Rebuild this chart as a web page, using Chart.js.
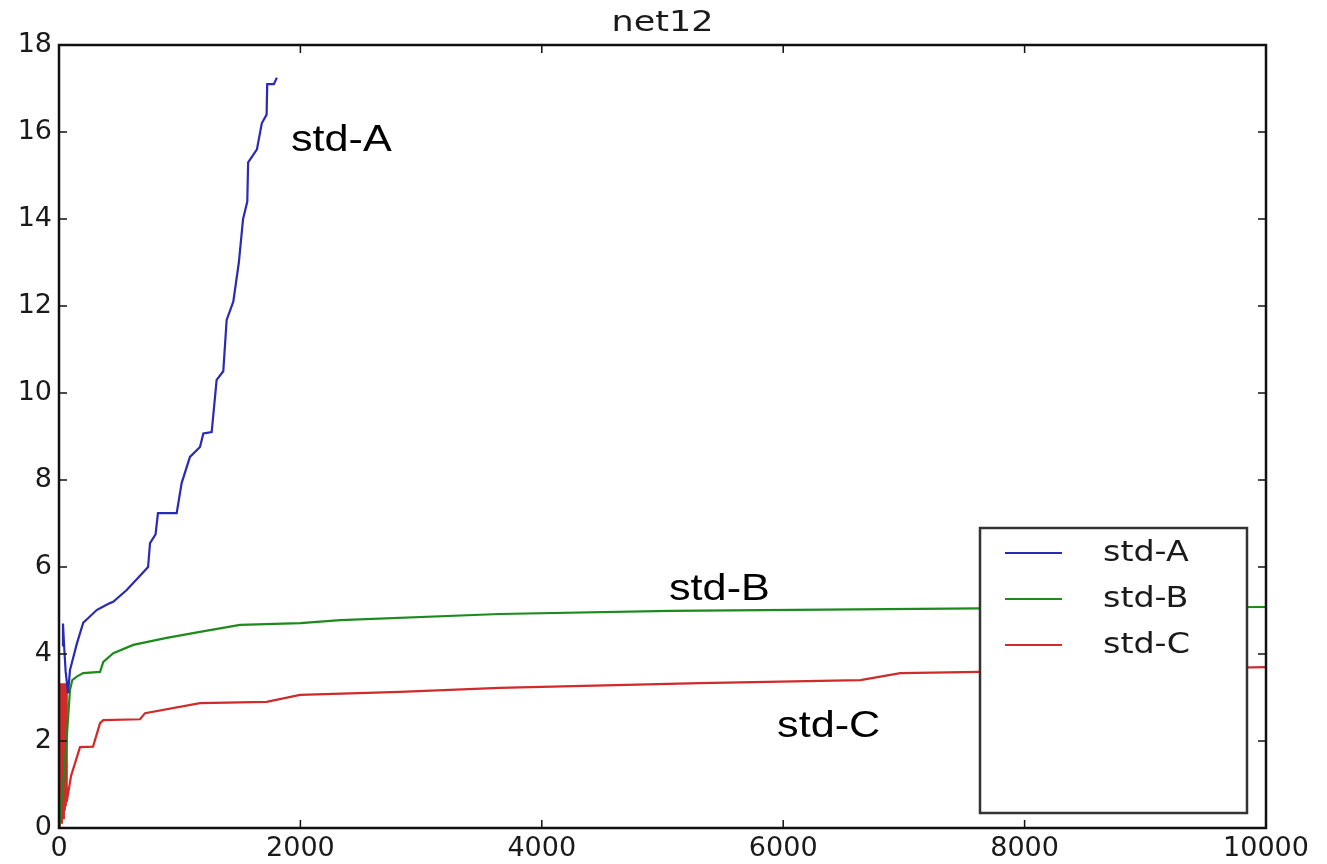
<!DOCTYPE html>
<html>
<head>
    <meta charset="UTF-8" />
    <title>net12</title>
    <style>
        body { margin: 0; background: #ffffff; }
        canvas#chartId { display: block; }
    </style>
</head>
<body>
    <canvas id="chartId" width="1327" height="864"></canvas>
    <script src="https://cdn.jsdelivr.net/npm/chart.js@4/dist/chart.umd.min.js"></script>
    <script>
        // values
        var xTicks = [0, 2000, 4000, 6000, 8000, 10000];
        var yTicks = [0, 2, 4, 6, 8, 10, 12, 14, 16, 18];

        var seriesNames = ['std-A', 'std-B', 'std-C'];
        var seriesColors = ['#2a2ab4', '#1c8a1c', '#d02a2a'];

        var xA = [25, 33, 40, 55, 75, 91, 149, 201, 232, 312, 340, 422, 449, 561, 671, 738, 754, 800, 820, 975, 1016, 1085, 1168, 1196, 1265, 1306, 1361, 1389, 1444, 1490, 1525, 1560, 1567, 1640, 1680, 1720, 1725, 1780, 1805];
        var yA = [4.2, 4.7, 4.3, 3.6, 3.1, 3.63, 4.25, 4.72, 4.8, 5.01, 5.05, 5.17, 5.2, 5.47, 5.8, 6.0, 6.55, 6.75, 7.24, 7.24, 7.93, 8.53, 8.76, 9.07, 9.1, 10.3, 10.5, 11.68, 12.1, 13.0, 14.0, 14.4, 15.3, 15.6, 16.2, 16.4, 17.1, 17.1, 17.25];

        var xB = [0, 30, 50, 91, 110, 147, 200, 340, 367, 450, 615, 892, 1168, 1500, 2000, 2330, 3650, 5060, 7630, 10000];
        var yB = [0, 0.9, 1.5, 3.17, 3.4, 3.48, 3.56, 3.59, 3.82, 4.02, 4.21, 4.37, 4.51, 4.67, 4.71, 4.78, 4.92, 4.99, 5.05, 5.08];

        var xC = [0, 4, 8, 12, 16, 20, 24, 28, 32, 36, 40, 44, 48, 52, 56, 60, 64, 100, 174, 282, 340, 367, 671, 713, 1168, 1720, 1997, 2825, 3650, 5310, 6640, 6970, 7630, 10000];
        var yC = [0, 3.33, 0.1, 3.33, 0.2, 3.33, 0.1, 3.33, 0.3, 3.33, 0.2, 3.33, 0.4, 3.33, 0.5, 3.33, 0.6, 1.2, 1.86, 1.87, 2.41, 2.48, 2.5, 2.64, 2.87, 2.9, 3.06, 3.13, 3.22, 3.33, 3.4, 3.56, 3.59, 3.7];

        // text labels placed next to the curves
        var noteText = ['std-A', 'std-B', 'std-C'];
        var noteX = [1922, 5054, 5949];
        var noteY = [15.8, 5.47, 2.32];

        function toPoints(xs, ys) {
            var pts = [];
            for (var i = 0; i < xs.length; i++) pts.push({ x: xs[i], y: ys[i] });
            return pts;
        }

        var allX = [xA, xB, xC];
        var allY = [yA, yB, yC];
        var datasets = seriesNames.map(function (name, i) {
            return {
                label: name,
                data: toPoints(allX[i], allY[i]),
                borderColor: seriesColors[i],
                borderWidth: 2.2,
                pointRadius: 0,
                tension: 0,
                fill: false
            };
        });

        var tickFont = { family: 'DejaVu Sans', size: 27 };

        // matplotlib-like frame, inward ticks, title, legend box and notes
        var mplLook = {
            id: 'mplLook',
            afterDraw: function (chart) {
                var ctx = chart.ctx;
                var a = chart.chartArea;
                var sx = chart.scales.x, sy = chart.scales.y;
                ctx.save();

                ctx.strokeStyle = '#111';
                ctx.lineWidth = 2.5;
                ctx.strokeRect(a.left, a.top, a.right - a.left, a.bottom - a.top);

                ctx.lineWidth = 1.5;
                ctx.beginPath();
                xTicks.forEach(function (v) {
                    var p = sx.getPixelForValue(v);
                    ctx.moveTo(p, a.bottom); ctx.lineTo(p, a.bottom - 8);
                    ctx.moveTo(p, a.top); ctx.lineTo(p, a.top + 8);
                });
                yTicks.forEach(function (v) {
                    var p = sy.getPixelForValue(v);
                    ctx.moveTo(a.left, p); ctx.lineTo(a.left + 8, p);
                    ctx.moveTo(a.right, p); ctx.lineTo(a.right - 8, p);
                });
                ctx.stroke();

                // title
                ctx.fillStyle = '#1a1a1a';
                ctx.textAlign = 'center';
                ctx.textBaseline = 'middle';
                ctx.save();
                ctx.translate((a.left + a.right) / 2, 24);
                ctx.scale(1.25, 1);
                ctx.font = '28px "DejaVu Sans"';
                ctx.fillText('net12', 0, 0);
                ctx.restore();

                // legend box
                var lx = 980, ly = 528, lw = 267, lh = 285;
                ctx.fillStyle = '#ffffff';
                ctx.fillRect(lx, ly, lw, lh);
                ctx.strokeStyle = '#333';
                ctx.lineWidth = 2.5;
                ctx.strokeRect(lx, ly, lw, lh);
                chart.data.datasets.forEach(function (ds, i) {
                    var yy = ly + 25 + i * 46;
                    ctx.strokeStyle = ds.borderColor;
                    ctx.lineWidth = 2;
                    ctx.beginPath();
                    ctx.moveTo(lx + 25, yy);
                    ctx.lineTo(lx + 82, yy);
                    ctx.stroke();
                    ctx.save();
                    ctx.translate(lx + 123, yy);
                    ctx.scale(1.15, 1);
                    ctx.fillStyle = '#1a1a1a';
                    ctx.textAlign = 'left';
                    ctx.font = '29px "DejaVu Sans"';
                    ctx.fillText(ds.label, 0, 0);
                    ctx.restore();
                });

                // notes on the curves
                ctx.fillStyle = '#000';
                ctx.textAlign = 'left';
                ctx.textBaseline = 'middle';
                noteText.forEach(function (t, i) {
                    ctx.save();
                    ctx.translate(sx.getPixelForValue(noteX[i]), sy.getPixelForValue(noteY[i]));
                    ctx.scale(1.2, 1);
                    ctx.font = '36px "Liberation Sans"';
                    ctx.fillText(t, 0, 0);
                    ctx.restore();
                });

                ctx.restore();
            }
        };

        function plainLabel(value) { return String(value); }

        var chrt = document.getElementById('chartId').getContext('2d');
        var chartId = new Chart(chrt, {
            type: 'line',
            data: { datasets: datasets },
            options: {
                responsive: false,
                animation: false,
                layout: { padding: { top: 45, right: 61, left: 0, bottom: 0 } },
                plugins: {
                    legend: { display: false },
                    title: { display: false },
                    tooltip: { enabled: false }
                },
                scales: {
                    x: {
                        type: 'linear',
                        min: 0,
                        max: 10000,
                        afterBuildTicks: function (s) { s.ticks = xTicks.map(function (v) { return { value: v }; }); },
                        afterFit: function (s) { s.height = 36; },
                        grid: { display: false, drawTicks: false },
                        border: { display: false },
                        ticks: { font: tickFont, color: '#1a1a1a', padding: 5, maxRotation: 0, autoSkip: false, callback: plainLabel }
                    },
                    y: {
                        min: 0,
                        max: 18,
                        afterBuildTicks: function (s) { s.ticks = yTicks.map(function (v) { return { value: v }; }); },
                        afterFit: function (s) { s.width = 59; },
                        grid: { display: false, drawTicks: false },
                        border: { display: false },
                        ticks: { font: tickFont, color: '#1a1a1a', padding: 7, callback: plainLabel }
                    }
                }
            },
            plugins: [mplLook]
        });
    </script>
</body>
</html>
